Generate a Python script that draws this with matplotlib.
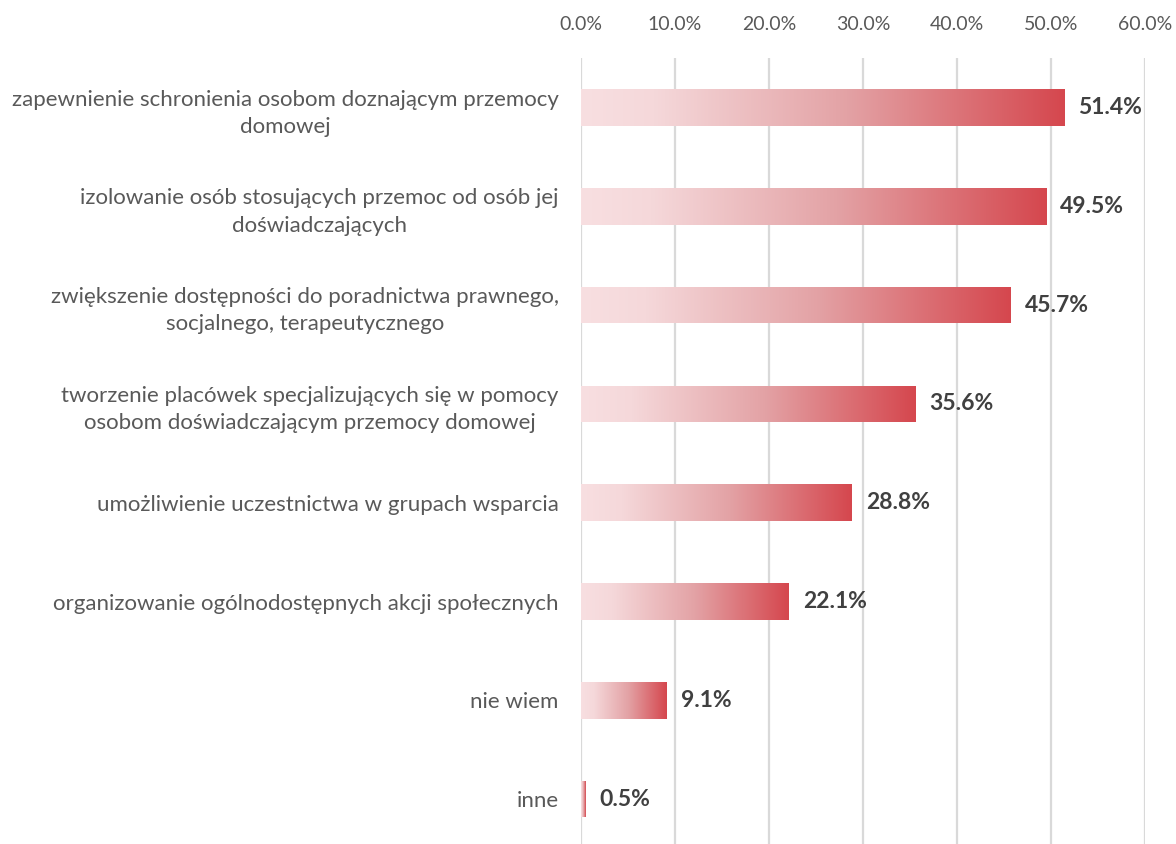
import matplotlib.pyplot as plt
import numpy as np
from matplotlib.colors import LinearSegmentedColormap
from matplotlib.patches import Rectangle

categories = [
    'zapewnienie schronienia osobom doznającym przemocy\ndomowej',
    'izolowanie osób stosujących przemoc od osób jej\ndoświadczających',
    'zwiększenie dostępności do poradnictwa prawnego,\nsocjalnego, terapeutycznego',
    'tworzenie placówek specjalizujących się w pomocy\nosobom doświadczającym przemocy domowej',
    'umożliwienie uczestnictwa w grupach wsparcia',
    'organizowanie ogólnodostępnych akcji społecznych',
    'nie wiem',
    'inne',
]
values = [51.4, 49.5, 45.7, 35.6, 28.8, 22.1, 9.1, 0.5]
ticks = [0, 10, 20, 30, 40, 50, 60]

plt.rcParams['font.family'] = ['Lato', 'DejaVu Sans']

cmap = LinearSegmentedColormap.from_list('grad', [
    (0.0, '#F8DFE1'), (0.15, '#F5D8DA'), (0.55, '#E3A2A5'), (1.0, '#D5474E')])
grad = np.linspace(0, 1, 256).reshape(1, -1)

fig = plt.figure(figsize=(11.76, 8.44), dpi=100)
ax = fig.add_axes([0.494, 0.0, 0.4796, 0.931])

bar_h = 0.37
for i, v in enumerate(values):
    rect = Rectangle((0, i - bar_h / 2), v, bar_h, facecolor='none', edgecolor='none')
    ax.add_patch(rect)
    im = ax.imshow(grad, cmap=cmap, aspect='auto', interpolation='bilinear',
                   extent=[0, v, i + bar_h / 2, i - bar_h / 2], zorder=2)
    im.set_clip_path(rect)
    ax.text(v + 1.5, i, f'{v:.1f}%', va='center', ha='left', fontsize=16.5,
            fontweight='bold', color='#404040')

ax.set_xlim(0, 60)
ax.set_ylim(7.455, -0.5)
ax.set_xticks(ticks)
ax.set_xticklabels([f'{t:.1f}%' for t in ticks], fontsize=14)
ax.xaxis.tick_top()
ax.set_yticks(range(len(categories)))
ax.set_yticklabels(categories, multialignment='center', fontsize=16, linespacing=1.45)
ax.tick_params(axis='both', length=0, labelcolor='#595959')
ax.tick_params(axis='x', pad=18)
ax.tick_params(axis='y', pad=16)
ax.grid(axis='x', color='#D9D9D9', linewidth=1.6, zorder=0)
ax.set_axisbelow(True)
for s in ax.spines.values():
    s.set_visible(False)

fig.savefig('out.png', dpi=100)
